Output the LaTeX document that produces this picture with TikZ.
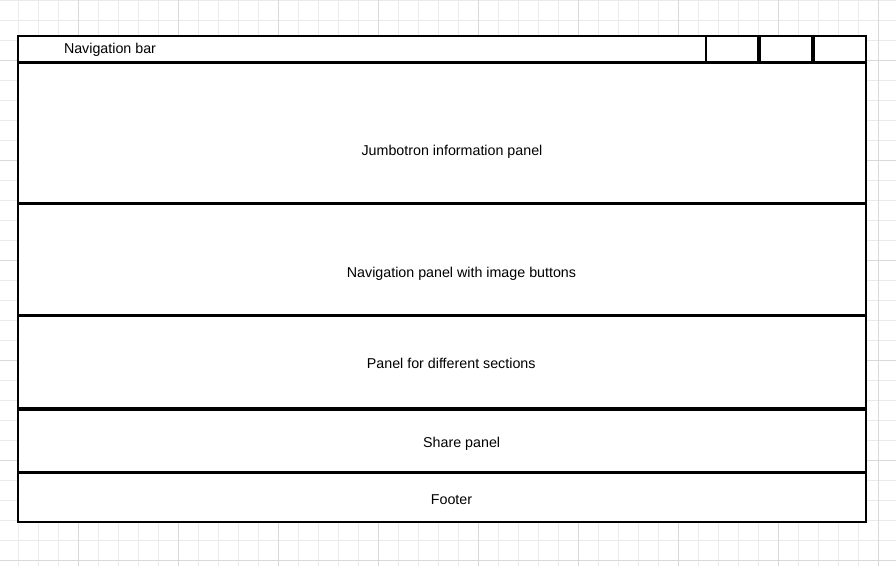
\documentclass[tikz,border=0pt]{standalone}
\usepackage{fontspec}
\setmainfont{Liberation Sans}
\usepackage{xcolor}
\usepackage{tikz}

\definecolor{gridminor}{HTML}{EBEBEB}
\definecolor{gridmajor}{HTML}{D9D9D9}

\tikzset{
  label text/.style={anchor=base, inner sep=0pt, font=\fontsize{10.7}{12}\selectfont},
  thin border/.style={line width=1.5pt},
  thick border/.style={line width=2.5pt},
}

\begin{document}
\begin{tikzpicture}[x=0.75pt,y=-0.75pt]
        \useasboundingbox (0,0) rectangle (896,566);

        % background grid
        \foreach \x in {18.5,38.5,...,898} \draw[gridminor, line width=0.75pt] (\x,0) -- (\x,566);
        \foreach \y in {0.5,20.5,...,566} \draw[gridminor, line width=0.75pt] (0,\y) -- (896,\y);
        \foreach \x in {78.5,178.5,...,898} \draw[gridmajor, line width=0.75pt] (\x,0) -- (\x,566);
        \foreach \y in {60.5,160.5,...,566} \draw[gridmajor, line width=0.75pt] (0,\y) -- (896,\y);

        % page frame
        \fill[white] (18,36) rectangle (866,522);
        \draw[thin border] (18,36) rectangle (866,522);

        % navigation bar buttons
        \draw[thin border] (706,36) -- (706,62.5);
        \draw[thick border] (759,36) -- (759,62.5);
        \draw[thick border] (813,36) -- (813,62.5);

        % panel dividers
        \foreach \y in {62.5,203.5,315.5,409,472.5}
            \draw[thick border] (18,\y) -- (866,\y);

        % panel labels
        \node[label text] (navbar) at (110,54) {Navigation bar};
        \node[label text] (jumbotron) at (452,155.7) {Jumbotron information panel};
        \node[label text] (navpanel) at (461.5,277.3) {Navigation panel with image buttons};
        \node[label text] (sections) at (451.2,368.3) {Panel for different sections};
        \node[label text] (share) at (461.7,447.5) {Share panel};
        \node[label text] (footer) at (451.5,504) {Footer};
    \end{tikzpicture}
\end{document}
